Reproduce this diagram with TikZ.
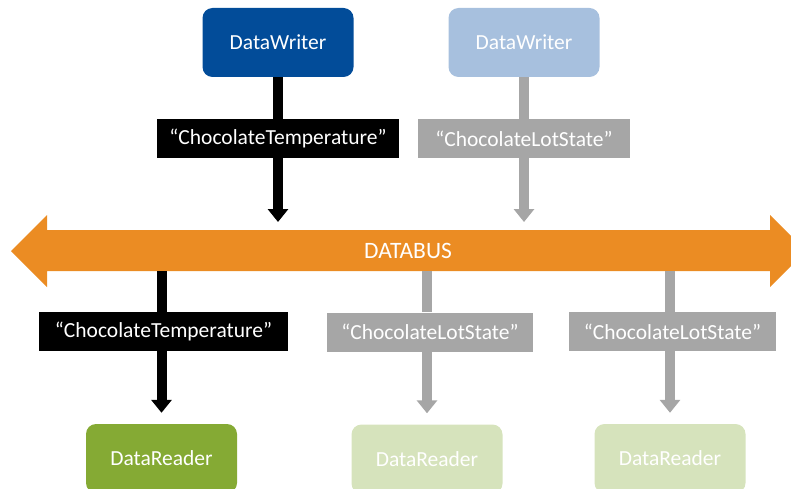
\documentclass[tikz,border=0pt]{standalone}
\usepackage{fontspec}
\setmainfont{Carlito}
\usetikzlibrary{arrows.meta}
\definecolor{writerblue}{RGB}{2,76,153}
\definecolor{writerpale}{RGB}{167,192,222}
\definecolor{readergreen}{RGB}{133,170,52}
\definecolor{readerpale}{RGB}{214,227,188}
\definecolor{topicgray}{RGB}{166,166,166}
\definecolor{busorange}{RGB}{235,140,35}
\begin{document}
\begin{tikzpicture}[x=1pt,y=-1pt,
    box/.style={rounded corners=10pt,minimum width=151pt,minimum height=69pt,
      inner sep=0pt,text=white,font=\fontsize{21.5}{24}\selectfont},
    topic/.style={minimum height=39pt,inner sep=0pt,text=white,
      font=\fontsize{21.5}{24}\selectfont},
    pipe/.style={line width=10pt},
    pipehead/.style={pipe,-{Triangle[width=20pt,length=13pt]}}]
  \useasboundingbox (0,0) rectangle (791,489);
  % the bus
  \fill[busorange] (11,251) -- (47,215) -- (47,230) -- (770,230) -- (770,215)
    -- (806,251) -- (770,287) -- (770,271) -- (47,271) -- (47,287) -- cycle;
  \node[text=white,font=\fontsize{23.5}{26}\selectfont] (bus) at (408,251) {DATABUS};
  % writers
  \node[box,fill=writerblue] (w1) at (278,42.5) {DataWriter};
  \node[box,fill=writerpale] (w2) at (524,42.5) {DataWriter};
  \node[topic,fill=black,minimum width=242pt] (l1) at (278,138.5) {“ChocolateTemperature”};
  \node[topic,fill=topicgray,minimum width=212pt] (l2) at (524,138.5) {“ChocolateLotState”};
  \coordinate (t1) at (278,222);
  \coordinate (t2) at (524,222);
  % readers
  \node[box,fill=readergreen] (r1) at (161.5,458.5) {DataReader};
  \node[box,fill=readerpale] (r2) at (427,459) {DataReader};
  \node[box,fill=readerpale] (r3) at (670,458.5) {DataReader};
  \node[topic,fill=black,minimum width=249pt] (l3) at (163.5,331.5) {“ChocolateTemperature”};
  \node[topic,fill=topicgray,minimum width=206pt] (l4) at (430,332) {“ChocolateLotState”};
  \node[topic,fill=topicgray,minimum width=207pt] (l5) at (672.5,331.5) {“ChocolateLotState”};
  \coordinate (s1) at (161.5,271);
  \coordinate (s2) at (427,271);
  \coordinate (s3) at (670,271);
  % connectors
  \draw[pipe,black] (w1) -- (l1);
  \draw[pipehead,black] (l1) -- (t1);
  \draw[pipe,topicgray] (w2) -- (l2);
  \draw[pipehead,topicgray] (l2) -- (t2);
  \draw[pipe,black] (s1) -- (s1 |- l3.north);
  \draw[pipehead,black,shorten >=11pt] (s1 |- l3.south) -- (r1);
  \draw[pipe,topicgray] (s2) -- (s2 |- l4.north);
  \draw[pipehead,topicgray,shorten >=11pt] (s2 |- l4.south) -- (r2);
  \draw[pipe,topicgray] (s3) -- (s3 |- l5.north);
  \draw[pipehead,topicgray,shorten >=11pt] (s3 |- l5.south) -- (r3);
\end{tikzpicture}
\end{document}
